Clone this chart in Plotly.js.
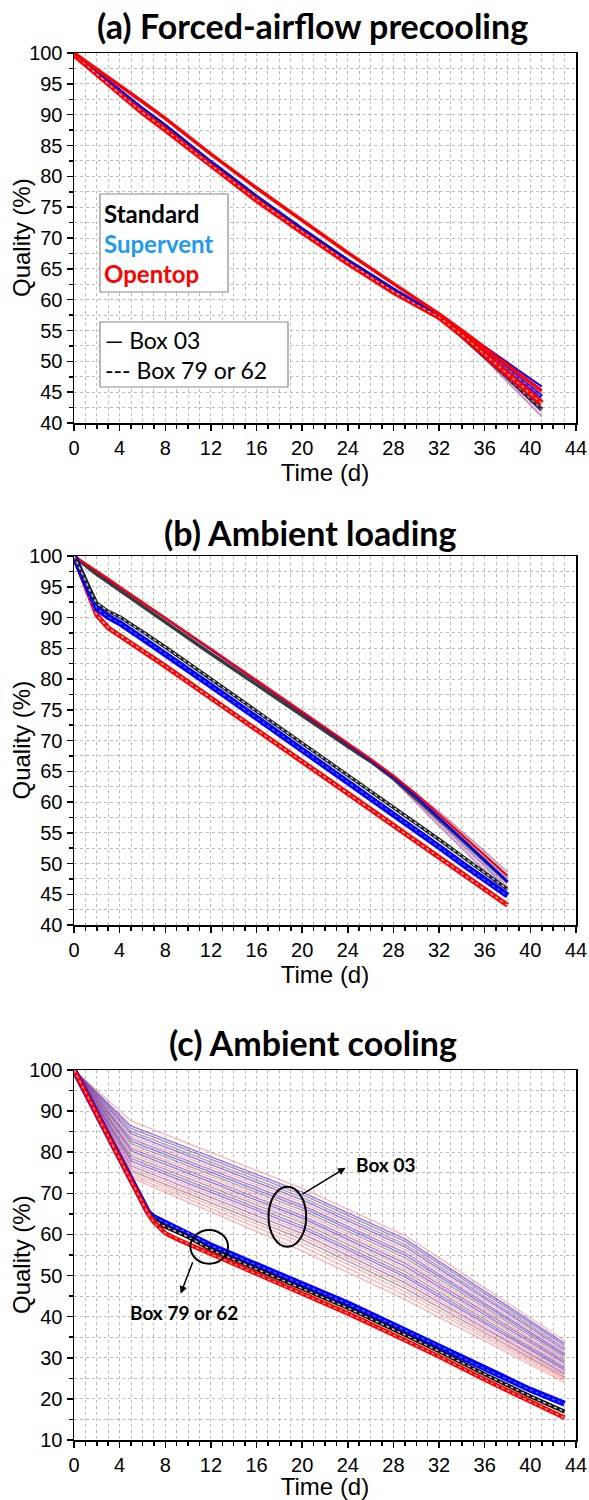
<!DOCTYPE html>
<html><head><meta charset="utf-8">
<script src="https://cdn.plot.ly/plotly-3.0.1.min.js"></script>
<style>body{margin:0;background:#fff}</style>
</head><body><div id="chart" style="width:589px;height:1500px"></div>
<script>
// ---------- Panel (a) Forced-airflow precooling ----------
const timeA = [0, 1, 2, 3, 4, 6, 8, 12, 16, 20, 24, 28, 30, 32, 34, 36, 38, 41];
const aStandard03  = [100, 98.5, 97.0, 95.5, 94.0, 91.1, 88.3, 82.4, 76.8, 71.5, 66.4, 61.7, 59.5, 57.5, 54.8, 52.0, 49.3, 45.3];
const aSupervent03 = [100, 98.5, 97.0, 95.5, 94.0, 91.1, 88.4, 82.5, 76.9, 71.6, 66.5, 61.8, 59.6, 57.6, 55.0, 52.4, 49.8, 45.9];
const aOpentop03   = [100, 98.7, 97.4, 96.0, 94.7, 92.1, 89.4, 83.6, 78.1, 72.8, 67.6, 62.6, 60.1, 57.7, 55.0, 52.2, 49.4, 45.2];
const aStandard79  = [100, 98.3, 96.8, 95.2, 93.7, 90.7, 87.9, 82.1, 76.5, 71.3, 66.3, 61.6, 59.4, 57.4, 54.1, 50.8, 47.4, 42.2];
const aSupervent79 = [100, 98.3, 96.8, 95.2, 93.7, 90.7, 87.9, 82.1, 76.5, 71.3, 66.3, 61.6, 59.4, 57.4, 54.5, 51.6, 48.6, 44.3];
const aOpentop62   = [99.8, 98.2, 96.6, 95.0, 93.4, 90.4, 87.6, 81.8, 76.2, 71.0, 66.0, 61.3, 59.2, 57.2, 54.3, 51.1, 47.9, 43.2];
const timeFanA = [28, 32, 36, 41];
const fanA = [
  [61.8, 57.6, 50.4, 41.0],
  [61.8, 57.6, 50.6, 41.4],
  [61.8, 57.6, 50.8, 41.9],
  [61.8, 57.6, 51.0, 42.4],
  [61.8, 57.6, 51.2, 42.8],
  [61.8, 57.6, 51.4, 43.3],
  [61.8, 57.6, 51.6, 43.8],
  [61.8, 57.6, 51.8, 44.3],
  [61.8, 57.6, 52.0, 44.8],
  [61.8, 57.6, 52.2, 45.3]
];

// ---------- Panel (b) Ambient loading ----------
const timeB = [0, 0.5, 1, 1.5, 2, 3, 4, 6, 8, 12, 16, 20, 24, 26, 28, 30, 32, 34, 36, 38];
const bStandard03  = [100, 99.2, 98.5, 97.7, 97.0, 95.7, 94.4, 91.8, 89.2, 84.1, 79.1, 74.0, 69.0, 66.6, 63.8, 60.6, 57.3, 53.9, 50.5, 47.0];
const bSupervent03 = [100, 99.4, 98.8, 98.1, 97.5, 96.2, 94.9, 92.4, 89.9, 84.8, 79.7, 74.6, 69.4, 66.8, 64.0, 60.9, 57.5, 54.0, 50.5, 47.0];
const bOpentop03   = [100, 99.4, 98.8, 98.1, 97.5, 96.3, 95.0, 92.5, 90.0, 84.9, 79.8, 74.7, 69.5, 67.0, 64.3, 61.3, 58.0, 54.7, 51.3, 48.0];
const bStandard79  = [100, 98.0, 96.0, 94.0, 92.3, 91.0, 90.1, 87.7, 85.2, 80.0, 74.8, 69.6, 64.4, 61.8, 59.2, 56.6, 53.9, 51.2, 48.5, 45.8];
const bSupervent79 = [100, 97.8, 95.6, 93.4, 91.5, 90.1, 89.1, 86.6, 84.1, 78.9, 73.7, 68.5, 63.3, 60.7, 58.1, 55.4, 52.7, 50.0, 47.3, 44.8];
const bOpentop62   = [100, 97.5, 95.0, 92.5, 90.4, 88.3, 87.1, 84.6, 82.1, 76.9, 71.8, 66.6, 61.4, 58.8, 56.2, 53.6, 51.0, 48.3, 45.7, 43.2];
const timeFanB = [26, 28, 32, 36, 38];
const fanB = [
  [66.8, 64.2, 58.4, 52.0, 48.6],
  [66.8, 64.1, 58.1, 51.6, 48.1],
  [66.8, 64.0, 57.8, 51.2, 47.6],
  [66.8, 64.0, 57.6, 50.8, 47.1],
  [66.8, 63.9, 57.3, 50.4, 46.6],
  [66.8, 63.8, 57.0, 50.0, 46.1],
  [66.8, 63.7, 56.7, 49.6, 45.6],
  [66.8, 63.7, 56.4, 49.2, 45.1],
  [66.8, 63.6, 56.1, 48.8, 44.6]
];

// ---------- Panel (c) Ambient cooling ----------
const timeC = [0, 2, 4, 6, 6.5, 7, 7.5, 8, 9, 10, 12, 16, 20, 24, 28, 32, 36, 40, 43];
const cSupervent79 = [100, 89.3, 78.6, 67.9, 65.4, 64.2, 63.5, 62.9, 61.6, 60.4, 57.3, 52.6, 47.9, 43.2, 38.0, 32.8, 27.3, 22.2, 18.8];
const cStandard79  = [100, 89.3, 78.6, 67.9, 65.2, 63.6, 62.6, 61.9, 60.6, 59.4, 56.3, 51.6, 46.9, 42.1, 36.9, 31.6, 26.0, 20.6, 16.9];
const cOpentop62   = [100, 89.3, 78.6, 67.9, 65.0, 63.0, 61.5, 60.3, 58.9, 57.7, 55.2, 50.4, 45.6, 40.8, 35.6, 30.3, 24.7, 19.3, 15.4];
const timeFanC = [0, 5, 20, 29, 43];
const fanC = [
  [100, 87.6, 71.2, 59.8, 34.2],
  [100, 86.4, 70.3, 58.9, 33.5],
  [100, 85.8, 69.7, 58.3, 33.0],
  [100, 85.1, 69.0, 57.6, 32.4],
  [100, 84.5, 68.4, 57.0, 31.9],
  [100, 83.9, 67.8, 56.3, 31.5],
  [100, 83.3, 67.1, 55.6, 31.0],
  [100, 82.7, 66.5, 55.0, 30.6],
  [100, 82.1, 65.9, 54.3, 30.1],
  [100, 81.5, 65.3, 53.6, 29.6],
  [100, 80.9, 64.6, 53.0, 29.2],
  [100, 80.3, 64.0, 52.3, 28.7],
  [100, 79.7, 63.4, 51.7, 28.3],
  [100, 79.1, 62.8, 51.0, 27.8],
  [100, 78.5, 62.1, 50.3, 27.4],
  [100, 77.9, 61.5, 49.7, 27.0],
  [100, 77.3, 60.9, 49.0, 26.5],
  [100, 76.7, 60.2, 48.3, 26.1],
  [100, 76.1, 59.5, 47.6, 25.7],
  [100, 75.5, 58.8, 46.9, 25.3],
  [100, 75.0, 58.0, 46.1, 24.9],
  [100, 74.4, 57.1, 45.2, 24.5],
  [100, 73.8, 56.0, 44.2, 24.0]
];

// ---------- Text ----------
const panelTitles = ['(a) Forced-airflow precooling', '(b) Ambient loading', '(c) Ambient cooling'];
const xTitle = 'Time (d)';
const yTitle = 'Quality (%)';
const legendBoxNames = ['Standard', 'Supervent', 'Opentop'];
const legendLineNames = ['\u2014 Box 03', '--- Box 79 or 62'];
const calloutLabels = ['Box 03', 'Box 79 or 62'];

// ---------- styles ----------
const RED = '#ff0000', BLUE = '#0000ff', BLACK = '#000000';
const fanPalette = ['rgba(255,90,90,0.45)', 'rgba(70,60,220,0.65)', 'rgba(130,50,160,0.6)', 'rgba(120,95,115,0.6)'];
const fanOrderC = [0,1,2,3,1,0,2,1,3,0,2,1,0,3,2,1,0,2,0,3,0,0,0];
const fanOrderAB = [2,0,1,3,0,2,1,0,2,0];

const W = 589, H = 1500, ML = 74, MR = 13;
const px = v => (v - ML) / (W - ML - MR);
const py = v => 1 - v / H;

const traces = [];
function addLine(ax, t, y, color, width, dash) {
  traces.push({type:'scatter', mode:'lines', x:t, y:y, xaxis:'x'+ax, yaxis:'y'+ax,
    line:{color:color, width:width, dash:dash||'solid'}, hoverinfo:'skip', showlegend:false});
}
function addBand(ax, t, y, color, width, dotColor) {
  addLine(ax, t, y, color, width);
  addLine(ax, t, y, dotColor, 1.3, 'dot');
}

// panel a
addBand('', timeA, aStandard79, BLACK, 4, 'rgba(255,255,255,0.7)');
addBand('', timeA, aSupervent79, BLUE, 4, 'rgba(255,255,255,0.5)');
fanA.forEach((v,i) => addLine('', timeFanA, v, fanPalette[fanOrderAB[i]], 1.3));
addBand('', timeA, aOpentop62, RED, 6, 'rgba(255,255,255,0.7)');
addLine('', timeA, aStandard03, BLACK, 1.5);
addLine('', timeA, aSupervent03, BLUE, 2);
addLine('', timeA, aOpentop03, RED, 3.5);

// panel b
fanB.forEach((v,i) => addLine('2', timeFanB, v, fanPalette[fanOrderAB[i]], 1.3));
addLine('2', timeB, bStandard03, '#3a3a3a', 3.5);
addLine('2', timeB, bSupervent03, BLUE, 2);
addLine('2', timeB, bOpentop03, RED, 2.2);
addBand('2', timeB, bOpentop62, RED, 5, 'rgba(255,255,255,0.8)');
addBand('2', timeB, bSupervent79, BLUE, 6, 'rgba(120,120,255,0.8)');
addBand('2', timeB, bStandard79, '#222222', 3.5, 'rgba(255,255,255,0.8)');

// panel c
fanC.forEach((v,i) => addLine('3', timeFanC, v, fanPalette[fanOrderC[i]], 1.4));
addBand('3', timeC, cSupervent79, BLUE, 6, 'rgba(120,120,255,0.8)');
addBand('3', timeC, cStandard79, '#111111', 4, 'rgba(255,255,255,0.8)');
addBand('3', timeC, cOpentop62, RED, 4.5, 'rgba(255,255,255,0.6)');

const GRID = '#bdbdbd';
const tickFont = {family:'"Liberation Sans", Arial, sans-serif', size:20, color:'#000'};
const titleFont = {family:'"Liberation Sans", Arial, sans-serif', size:24, color:'#000'};
function xAxis(anchor) {
  return {anchor:anchor, domain:[0,1], range:[0,44], tick0:0, dtick:4, ticks:'outside', ticklen:6, tickwidth:1.5,
    tickcolor:'#000', showline:true, linecolor:'#000', linewidth:1.5, mirror:true, zeroline:false,
    showgrid:true, gridcolor:GRID, griddash:'dot', gridwidth:1, tickfont:tickFont,
    minor:{dtick:1, ticks:'outside', ticklen:4, tickcolor:'#000', showgrid:true, gridcolor:GRID, griddash:'dot', gridwidth:1},
    title:{text:xTitle, font:titleFont, standoff:6}};
}
function yAxis(anchor, dom, lo, dt) {
  return {anchor:anchor, domain:dom, range:[lo,100], tick0:0, dtick:dt, ticks:'outside', ticklen:6, tickwidth:1.5,
    tickcolor:'#000', showline:true, linecolor:'#000', linewidth:1.5, mirror:true, zeroline:false,
    showgrid:true, gridcolor:GRID, griddash:'dot', gridwidth:1, tickfont:tickFont,
    minor:{dtick:dt/2, ticks:'outside', ticklen:4, tickcolor:'#000', showgrid:true, gridcolor:GRID, griddash:'dot', gridwidth:1}};
}

const bold = {family:'Lato, "Open Sans", sans-serif', size:34, color:'#000', weight:700};
const annotations = [
  {xref:'paper', yref:'paper', x:px(312), y:py(25), text:'<b>'+panelTitles[0]+'</b>', showarrow:false, font:bold, xanchor:'center', yanchor:'middle'},
  {xref:'paper', yref:'paper', x:px(310), y:py(533), text:'<b>'+panelTitles[1]+'</b>', showarrow:false, font:bold, xanchor:'center', yanchor:'middle'},
  {xref:'paper', yref:'paper', x:px(313), y:py(1042), text:'<b>'+panelTitles[2]+'</b>', showarrow:false, font:bold, xanchor:'center', yanchor:'middle'}
];
// y-axis titles (rotated), one per panel, centred on each plot area
[[53,423],[556,925],[1070,1440]].forEach(r => annotations.push({xref:'paper', yref:'paper', x:px(21), y:py((r[0]+r[1])/2),
  text:yTitle, textangle:-90, showarrow:false, font:titleFont, xanchor:'center', yanchor:'middle'}));
const legColors = ['#000000', '#1e9af0', '#ff0000'];
const legY = [213, 243, 274];
legendBoxNames.forEach((n,i) => annotations.push({xref:'paper', yref:'paper', x:px(102), y:py(legY[i]), xanchor:'left', yanchor:'middle',
  text:'<b>'+n+'</b>', showarrow:false, font:{family:'Lato, sans-serif', size:24, color:legColors[i]}}));
const legY2 = [340, 370];
legendLineNames.forEach((n,i) => annotations.push({xref:'paper', yref:'paper', x:px(103), y:py(legY2[i]), xanchor:'left', yanchor:'middle',
  text:n, showarrow:false, font:{family:'Lato, sans-serif', size:23, color:'#000'}}));
// callouts panel c
annotations.push({xref:'x3', yref:'y3', x:27.3, y:77.0, text:'<b>'+calloutLabels[0]+'</b>', showarrow:false, font:{family:'Lato, sans-serif', size:19, color:'#000'}});
annotations.push({xref:'x3', yref:'y3', x:9.6, y:41.0, text:'<b>'+calloutLabels[1]+'</b>', showarrow:false, font:{family:'Lato, sans-serif', size:19, color:'#000'}});
annotations.push({xref:'x3', yref:'y3', axref:'x3', ayref:'y3', x:23.8, y:76.2, ax:19.9, ay:69.6, text:'', showarrow:true, arrowhead:2, arrowsize:1, arrowwidth:1.5, arrowcolor:'#000'});
annotations.push({xref:'x3', yref:'y3', axref:'x3', ayref:'y3', x:9.35, y:45.6, ax:10.45, ay:53.6, text:'', showarrow:true, arrowhead:2, arrowsize:1, arrowwidth:1.5, arrowcolor:'#000'});

const shapes = [
  {type:'rect', xref:'paper', yref:'paper', x0:px(100), x1:px(228), y0:py(292), y1:py(194), line:{color:'#8a8a8a', width:1.2}, fillcolor:'#fff', layer:'above'},
  {type:'rect', xref:'paper', yref:'paper', x0:px(100), x1:px(288), y0:py(387), y1:py(322), line:{color:'#8a8a8a', width:1.2}, fillcolor:'#fff', layer:'above'},
  {type:'circle', xref:'x3', yref:'y3', x0:17.05, x1:20.35, y0:57.0, y1:71.6, line:{color:'#000', width:2}},
  {type:'circle', xref:'x3', yref:'y3', x0:10.2, x1:13.5, y0:52.9, y1:61.1, line:{color:'#000', width:2}}
];

const layout = {
  width:W, height:H, margin:{l:ML, r:MR, t:0, b:0}, paper_bgcolor:'#fff', plot_bgcolor:'#fff', showlegend:false,
  xaxis: xAxis('y'), yaxis: yAxis('x', [py(423), py(53)], 40, 5),
  xaxis2: xAxis('y2'), yaxis2: yAxis('x2', [py(925), py(556)], 40, 5),
  xaxis3: xAxis('y3'), yaxis3: yAxis('x3', [py(1440), py(1070)], 10, 10),
  annotations:annotations, shapes:shapes
};
Plotly.newPlot('chart', traces, layout, {staticPlot:true, displayModeBar:false});
</script></body></html>
